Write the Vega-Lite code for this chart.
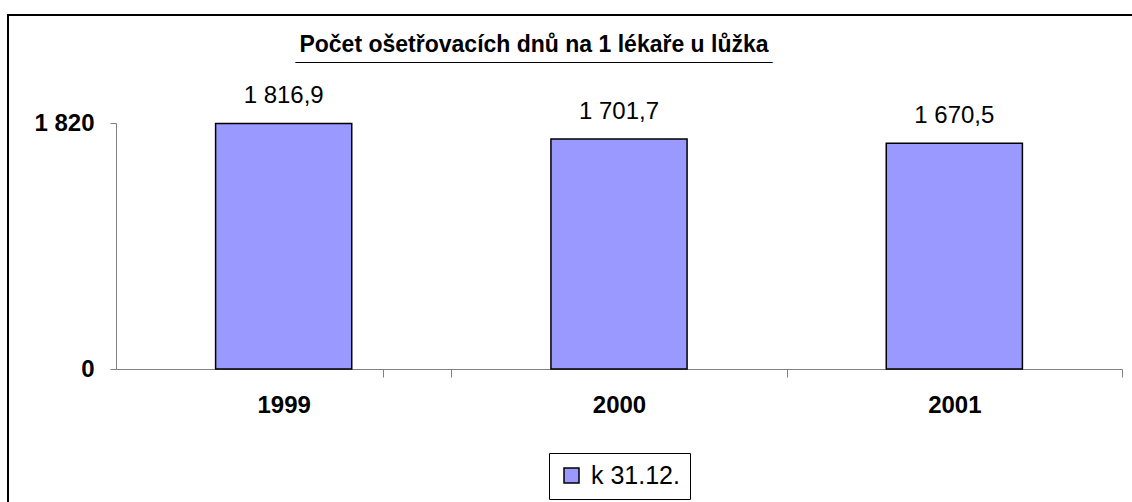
{
  "$schema": "https://vega.github.io/schema/vega-lite/v6.json",
  "width": 1140,
  "height": 500,
  "autosize": {"type": "none"},
  "padding": {"left": 8, "top": 15, "right": 0, "bottom": 0},
  "background": "white",
  "config": {
    "locale": {"number": {"decimal": ",", "thousands": " ", "grouping": [3], "currency": ["", ""]}},
    "font": "Liberation Sans",
    "view": {"stroke": "black", "strokeWidth": 2},
    "axis": {"domainColor": "#808080", "tickColor": "#808080", "grid": false, "labelColor": "black", "labelFont": "Liberation Sans", "labelFontWeight": "bold", "labelFontSize": 24, "title": null}
  },
  "title": {
    "text": "Počet ošetřovacích dnů na 1 lékaře u lůžka",
    "subtitle": "_______________________________________",
    "font": "Liberation Sans",
    "fontSize": 23,
    "fontWeight": "bold",
    "color": "black",
    "subtitleFont": "Liberation Sans",
    "subtitleFontSize": 22,
    "subtitleFontWeight": "bold",
    "subtitleColor": "black",
    "subtitlePadding": -14,
    "anchor": "middle",
    "frame": "group",
    "dx": -44,
    "offset": -49
  },
  "data": {
    "values": [
      {"year": "1999", "value": 1816.9, "series": "k 31.12."},
      {"year": "2000", "value": 1701.7, "series": "k 31.12."},
      {"year": "2001", "value": 1670.5, "series": "k 31.12."}
    ]
  },
  "encoding": {
    "x": {
      "field": "year",
      "type": "ordinal",
      "scale": {"range": [108, 1114], "paddingInner": 0.594, "paddingOuter": 0.297},
      "axis": {"orient": "bottom", "offset": -146, "tickSize": 8, "tickOffset": 167.67, "labelOffset": -167.67, "tickExtra": true, "labelAngle": 0, "labelPadding": 16, "labelBaseline": "top"}
    },
    "y": {
      "field": "value",
      "type": "quantitative",
      "scale": {"domain": [0, 1820], "range": [354, 108], "nice": false, "zero": true},
      "axis": {"orient": "left", "offset": -108, "values": [0, 1820], "format": ",.0f", "tickSize": 6, "labelPadding": 16}
    }
  },
  "layer": [
    {
      "mark": {"type": "bar", "stroke": "black", "strokeWidth": 1.5},
      "encoding": {
        "color": {
          "field": "series",
          "type": "nominal",
          "scale": {"range": ["#9999FF"]},
          "legend": {
            "orient": "none",
            "legendX": 541,
            "legendY": 438,
            "title": null,
            "strokeColor": "black",
            "fillColor": "white",
            "padding": 10,
            "symbolType": "square",
            "symbolSize": 225,
            "labelFontSize": 25,
            "labelOffset": 7,
            "labelColor": "black",
            "labelFont": "Liberation Sans",
            "symbolOpacity": 1,
            "encode": {"symbols": {"update": {"stroke": {"value": "black"}, "strokeWidth": {"value": 1}}}}
          }
        }
      }
    },
    {
      "mark": {"type": "text", "dy": -20, "baseline": "alphabetic", "fontSize": 24, "color": "black", "font": "Liberation Sans"},
      "encoding": {"text": {"field": "value", "type": "quantitative", "format": ",.1f"}}
    }
  ]
}
